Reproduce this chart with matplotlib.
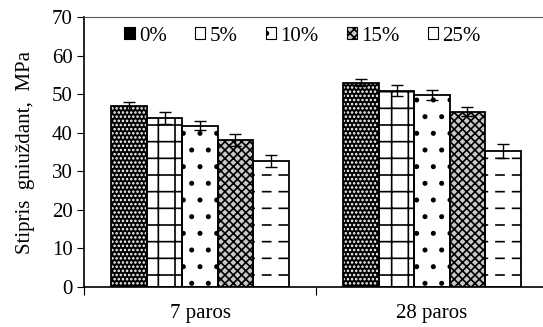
import numpy as np
import matplotlib
matplotlib.use('Agg')
import matplotlib.pyplot as plt

plt.rcParams['font.family'] = ['Liberation Serif', 'DejaVu Serif']
plt.rcParams['hatch.linewidth'] = 1.2

groups = ['7 paros', '28 paros']
series = ['0%', '5%', '10%', '15%', '25%']
vals = [[46.9, 53.0],
        [43.9, 50.9],
        [41.8, 49.7],
        [38.1, 45.5],
        [32.7, 35.3]]
errs = [[1.1, 0.9],
        [1.6, 1.5],
        [1.2, 1.3],
        [1.5, 1.1],
        [1.6, 1.8]]

# face, hatch colour, hatch
styles = [('black', 'white', '....'),
          ('white', 'black', '+'),
          ('white', 'black', '.'),
          ('#c8c8c8', 'black', 'xxxx'),
          ('white', 'black', '-')]

fs = 15
fig = plt.figure(figsize=(5.43, 3.27), dpi=100)
ax = fig.add_axes([84/543, 40/327, 464/543, 270/327])

x = np.array([0.5, 1.5])
w = 0.153
handles = []
for i, s in enumerate(series):
    pos = x + (i - 2) * w
    fc, hc, h = styles[i]
    ax.bar(pos, vals[i], w, color=fc, edgecolor=hc, hatch=h, linewidth=0, zorder=2)
    if s == '25%':
        # break the horizontal lines into dashes
        gaps = ax.bar(pos, vals[i], w, color='none', edgecolor='white', hatch='|',
                      linewidth=0, zorder=2.5)
        for g in gaps:
            if hasattr(g, 'set_hatch_linewidth'):
                g.set_hatch_linewidth(5)
    ax.bar(pos, vals[i], w, facecolor='none', edgecolor='black', linewidth=1.3, zorder=3)
    ax.errorbar(pos, vals[i], yerr=errs[i], fmt='none', ecolor='black',
                elinewidth=1, capsize=4.5, capthick=1, zorder=4)
    p = plt.Rectangle((0, 0), 1, 1, facecolor=fc, edgecolor=hc, hatch=h, linewidth=0)
    handles.append(p)

ax.set_xlim(0, 2)
ax.set_ylim(0, 70)
ax.set_yticks(range(0, 71, 10))
ax.set_xticks([0, 1, 2])
ax.set_xticklabels([])
ax.set_xticks(x, minor=True)
ax.set_xticklabels(groups, minor=True)
ax.tick_params(axis='x', which='minor', length=0, pad=12, labelsize=fs)
ax.tick_params(axis='x', which='major', length=6, direction='out')
ax.tick_params(axis='y', length=5, direction='out', labelsize=fs, pad=3)
ax.spines['right'].set_visible(False)
ax.spines['top'].set_linewidth(0.8)
ax.spines['top'].set_color('#555555')
ax.spines['left'].set_linewidth(1.2)
ax.spines['bottom'].set_linewidth(1.2)
ax.set_ylabel('Stipris  gniuždant,  MPa', fontsize=fs, labelpad=12)

leg = ax.legend(handles, series, loc='upper left', bbox_to_anchor=(0.06, 1.01), ncol=5,
                frameon=False, fontsize=fs, handlelength=0.5, handleheight=0.5,
                handletextpad=0.2, columnspacing=1.35, borderaxespad=0.2)
for p in leg.get_patches():
    p.set_edgecolor('black')
    p.set_linewidth(0.8)

fig.savefig('out.png', dpi=100)
